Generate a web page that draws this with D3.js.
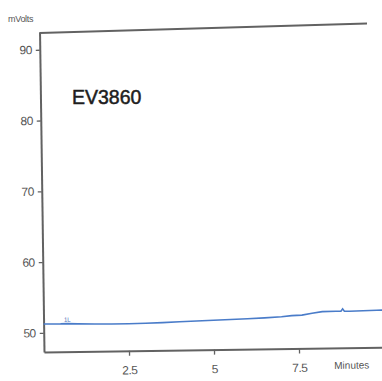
<!DOCTYPE html>
<html>
<head>
<meta charset="utf-8">
<script src="https://cdn.jsdelivr.net/npm/d3@7"></script>
<style>
  body { margin: 0; background: #fff; }
  text { font-family: "Liberation Sans", Arial, sans-serif; }
</style>
</head>
<body>
<div id="chart"></div>
<script>
// trace values (minutes, mVolts)
var minutes = [0, 0.5, 0.7, 1, 1.5, 2, 2.5, 3, 3.5, 4, 4.5, 5, 5.5, 6, 6.5, 7, 7.3, 7.6, 7.9, 8.2, 8.6, 8.75, 8.8, 8.85, 9, 9.4, 9.8, 10];
var mvolts = [51.25, 51.24, 51.26, 51.2, 51.15, 51.12, 51.12, 51.16, 51.22, 51.3, 51.38, 51.45, 51.53, 51.6, 51.68, 51.8, 51.95, 52.0, 52.25, 52.45, 52.47, 52.46, 52.8, 52.46, 52.45, 52.5, 52.55, 52.55];
var yTicks = [50, 60, 70, 80, 90];
var xTicks = [2.5, 5, 7.5];

var width = 382;
var height = 381;

var svg = d3.select("#chart")
  .append("svg")
  .attr("width", width)
  .attr("height", height);

// the scan is slightly tilted, so the plot sits in a rotated group
var plot = svg.append("g")
  .attr("transform", "translate(44,352) rotate(-0.8)");

var x = d3.scaleLinear().domain([0, 10]).range([0, 340]);
var y = d3.scaleLinear().domain([47.3, 92.5]).range([0, -320]);

// left axis
plot.append("g")
  .call(d3.axisLeft(y).tickValues(yTicks).tickSize(4).tickSizeOuter(0).tickPadding(4));

// bottom axis
plot.append("g")
  .call(d3.axisBottom(x).tickValues(xTicks).tickFormat(function (d) { return d; })
    .tickSize(5).tickSizeOuter(0).tickPadding(10));

plot.selectAll(".domain")
  .attr("stroke", "#626262")
  .attr("stroke-width", 2);
plot.selectAll(".tick line")
  .attr("stroke", "#626262")
  .attr("stroke-width", 1.3);
plot.selectAll(".tick text")
  .attr("fill", "#555")
  .attr("font-size", 12)
  .attr("letter-spacing", -0.5)
  .style("font-family", "'Liberation Sans', Arial, sans-serif");

plot.append("text")
  .attr("x", 290)
  .attr("y", 21)
  .attr("fill", "#555")
  .attr("font-size", 10)
  .text("Minutes");

// trace
var line = d3.line()
  .x(function (d, i) { return x(minutes[i]); })
  .y(function (d) { return y(d); });

plot.append("path")
  .datum(mvolts)
  .attr("d", line)
  .attr("fill", "none")
  .attr("stroke", "#4a7cc9")
  .attr("stroke-width", 1.6);

// tiny peak mark near the start
plot.append("text")
  .attr("x", x(0.6))
  .attr("y", y(51.25) - 2)
  .attr("fill", "#4a6fb5")
  .attr("font-size", 6)
  .text("1L");

// top frame line (tilted a bit more than the rest in the scan)
svg.append("line")
  .attr("x1", 39.5).attr("y1", 33)
  .attr("x2", 367).attr("y2", 23.5)
  .attr("stroke", "#626262")
  .attr("stroke-width", 2);

svg.append("text")
  .attr("x", 8)
  .attr("y", 22)
  .attr("fill", "#555")
  .attr("font-size", 9)
  .attr("letter-spacing", -0.3)
  .text("mVolts");

svg.append("text")
  .attr("x", 72)
  .attr("y", 104)
  .attr("fill", "#1e1e1e")
  .attr("stroke", "#1e1e1e")
  .attr("stroke-width", 0.5)
  .attr("font-size", 19.5)
  .text("EV3860");
</script>
</body>
</html>
